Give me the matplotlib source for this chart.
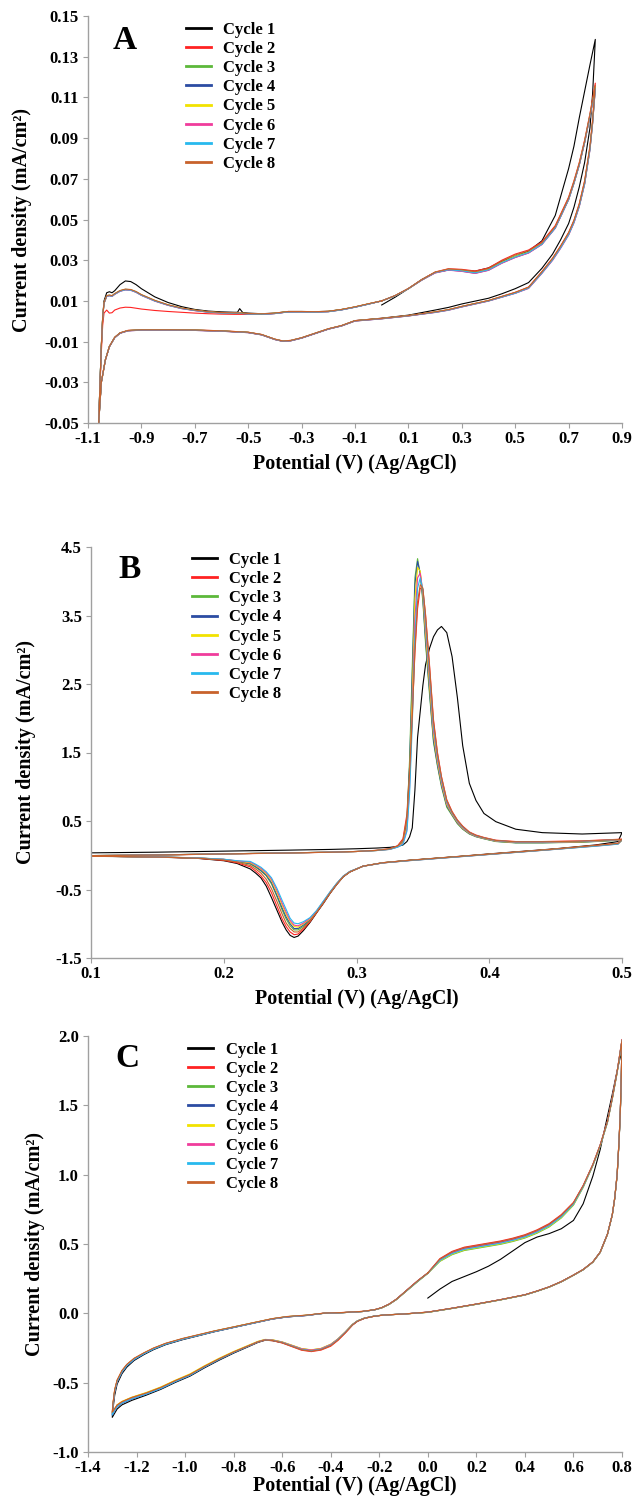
import matplotlib
matplotlib.use('Agg')
import matplotlib.pyplot as plt

plt.rcParams['font.family'] = ['Liberation Serif', 'DejaVu Serif']
plt.rcParams['font.weight'] = 'bold'
plt.rcParams['axes.unicode_minus'] = False

# ---------------- shared legend data ----------------
cycle_labels = ['Cycle 1', 'Cycle 2', 'Cycle 3', 'Cycle 4',
                'Cycle 5', 'Cycle 6', 'Cycle 7', 'Cycle 8']
cycle_colors = ['#000000', '#ff2222', '#5cb83a', '#2c4ca2',
                '#f2e200', '#f03c9c', '#28b9ee', '#c8622c']

# ---------------- Panel A ----------------
A_V_up = [0.00, 0.05, 0.10, 0.15, 0.20, 0.25, 0.30, 0.35, 0.40, 0.45, 0.50, 0.55,
          0.60, 0.65, 0.70, 0.72, 0.74, 0.76, 0.78, 0.80]
A_I_up = [
    [0.0080, 0.0118, 0.0160, 0.0205, 0.0240, 0.0252, 0.0250, 0.0246, 0.0262, 0.0295, 0.0318, 0.0345, 0.0395, 0.0520, 0.0750, 0.0860, 0.1000, 0.1130, 0.1260, 0.1385],
    [0.0100, 0.0126, 0.0161, 0.0205, 0.0242, 0.0258, 0.0255, 0.0247, 0.0262, 0.0300, 0.0330, 0.0350, 0.0390, 0.0470, 0.0610, 0.0690, 0.0780, 0.0890, 0.1020, 0.1170],
    [0.0100, 0.0125, 0.0160, 0.0203, 0.0240, 0.0255, 0.0250, 0.0240, 0.0255, 0.0290, 0.0320, 0.0340, 0.0380, 0.0460, 0.0600, 0.0680, 0.0770, 0.0880, 0.1010, 0.1150],
    [0.0100, 0.0125, 0.0160, 0.0202, 0.0238, 0.0252, 0.0246, 0.0236, 0.0251, 0.0286, 0.0314, 0.0336, 0.0378, 0.0458, 0.0598, 0.0678, 0.0768, 0.0878, 0.1008, 0.1145],
    [0.0100, 0.0125, 0.0160, 0.0203, 0.0239, 0.0254, 0.0249, 0.0239, 0.0254, 0.0289, 0.0318, 0.0339, 0.0380, 0.0460, 0.0600, 0.0680, 0.0770, 0.0880, 0.1010, 0.1148],
    [0.0100, 0.0125, 0.0160, 0.0202, 0.0237, 0.0251, 0.0245, 0.0235, 0.0250, 0.0285, 0.0313, 0.0335, 0.0377, 0.0457, 0.0597, 0.0677, 0.0767, 0.0877, 0.1007, 0.1140],
    [0.0100, 0.0125, 0.0160, 0.0203, 0.0239, 0.0253, 0.0248, 0.0238, 0.0253, 0.0288, 0.0316, 0.0338, 0.0379, 0.0459, 0.0599, 0.0679, 0.0769, 0.0879, 0.1009, 0.1145],
    [0.0100, 0.0126, 0.0161, 0.0204, 0.0241, 0.0257, 0.0253, 0.0244, 0.0259, 0.0296, 0.0326, 0.0346, 0.0386, 0.0466, 0.0606, 0.0686, 0.0776, 0.0886, 0.1016, 0.1160],
]
A_V_rev = [0.80, 0.79, 0.78, 0.76, 0.74, 0.72, 0.70, 0.67, 0.64, 0.60, 0.55, 0.50, 0.45, 0.40,
           0.30, 0.25, 0.20, 0.10, 0.00, -0.10, -0.15, -0.20, -0.25, -0.30, -0.34, -0.37,
           -0.40, -0.45, -0.50, -0.60, -0.70, -0.80, -0.90, -0.95, -0.98, -1.00, -1.02,
           -1.035, -1.05, -1.06]
A_I_rev = [
    [0.1385, 0.1120, 0.0950, 0.0780, 0.0660, 0.0560, 0.0480, 0.0400, 0.0330, 0.0260, 0.0190, 0.0160, 0.0135, 0.0113, 0.0085, 0.0068, 0.0055, 0.0030, 0.0015, 0.0003, -0.0022, -0.0038, -0.0060, -0.0082, -0.0095, -0.0098, -0.0089, -0.0066, -0.0055, -0.0048, -0.0044, -0.0043, -0.0043, -0.0046, -0.0058, -0.0080, -0.0125, -0.0190, -0.0300, -0.0500],
    [0.1170, 0.0990, 0.0860, 0.0690, 0.0578, 0.0496, 0.0436, 0.0370, 0.0310, 0.0244, 0.0168, 0.0142, 0.0122, 0.0102, 0.0073, 0.0057, 0.0046, 0.0028, 0.0014, 0.0003, -0.0021, -0.0037, -0.0059, -0.0081, -0.0094, -0.0097, -0.0088, -0.0065, -0.0054, -0.0047, -0.0043, -0.0042, -0.0042, -0.0045, -0.0057, -0.0079, -0.0124, -0.0190, -0.0300, -0.0500],
    [0.1150, 0.0980, 0.0850, 0.0680, 0.0570, 0.0490, 0.0430, 0.0365, 0.0305, 0.0240, 0.0165, 0.0140, 0.0120, 0.0101, 0.0072, 0.0056, 0.0045, 0.0027, 0.0013, 0.0002, -0.0022, -0.0038, -0.0060, -0.0082, -0.0095, -0.0098, -0.0089, -0.0066, -0.0055, -0.0048, -0.0044, -0.0043, -0.0043, -0.0046, -0.0058, -0.0080, -0.0125, -0.0190, -0.0300, -0.0500],
    [0.1145, 0.0976, 0.0846, 0.0676, 0.0566, 0.0486, 0.0426, 0.0361, 0.0302, 0.0237, 0.0163, 0.0138, 0.0119, 0.0100, 0.0071, 0.0055, 0.0044, 0.0026, 0.0012, 0.0001, -0.0023, -0.0039, -0.0061, -0.0083, -0.0096, -0.0099, -0.0090, -0.0067, -0.0056, -0.0049, -0.0045, -0.0044, -0.0044, -0.0047, -0.0059, -0.0081, -0.0126, -0.0191, -0.0300, -0.0500],
    [0.1148, 0.0978, 0.0848, 0.0678, 0.0568, 0.0488, 0.0428, 0.0363, 0.0304, 0.0239, 0.0164, 0.0139, 0.0120, 0.0101, 0.0072, 0.0056, 0.0045, 0.0027, 0.0013, 0.0002, -0.0022, -0.0038, -0.0060, -0.0082, -0.0095, -0.0098, -0.0089, -0.0066, -0.0055, -0.0048, -0.0044, -0.0043, -0.0043, -0.0046, -0.0058, -0.0080, -0.0125, -0.0190, -0.0300, -0.0500],
    [0.1140, 0.0972, 0.0842, 0.0672, 0.0563, 0.0483, 0.0423, 0.0358, 0.0299, 0.0235, 0.0161, 0.0137, 0.0118, 0.0099, 0.0070, 0.0054, 0.0043, 0.0026, 0.0012, 0.0001, -0.0023, -0.0039, -0.0061, -0.0083, -0.0096, -0.0099, -0.0090, -0.0067, -0.0056, -0.0049, -0.0045, -0.0044, -0.0044, -0.0047, -0.0059, -0.0081, -0.0126, -0.0191, -0.0300, -0.0500],
    [0.1145, 0.0975, 0.0845, 0.0675, 0.0566, 0.0486, 0.0426, 0.0361, 0.0302, 0.0237, 0.0163, 0.0138, 0.0119, 0.0100, 0.0071, 0.0055, 0.0044, 0.0027, 0.0013, 0.0002, -0.0022, -0.0038, -0.0060, -0.0082, -0.0095, -0.0098, -0.0089, -0.0066, -0.0055, -0.0048, -0.0044, -0.0043, -0.0043, -0.0046, -0.0058, -0.0080, -0.0125, -0.0190, -0.0300, -0.0500],
    [0.1160, 0.0988, 0.0858, 0.0688, 0.0576, 0.0495, 0.0435, 0.0369, 0.0309, 0.0243, 0.0167, 0.0142, 0.0122, 0.0102, 0.0073, 0.0057, 0.0046, 0.0028, 0.0014, 0.0003, -0.0021, -0.0037, -0.0059, -0.0081, -0.0094, -0.0097, -0.0088, -0.0065, -0.0054, -0.0047, -0.0043, -0.0042, -0.0042, -0.0045, -0.0057, -0.0079, -0.0124, -0.0190, -0.0300, -0.0500],
]
A_V_low = [-1.060, -1.055, -1.050, -1.045, -1.040, -1.030, -1.020, -1.010, -1.000, -0.980,
           -0.960, -0.940, -0.920, -0.900, -0.850, -0.800, -0.750, -0.700, -0.650, -0.600,
           -0.550, -0.540, -0.532, -0.520, -0.500, -0.450, -0.400, -0.350, -0.300, -0.250,
           -0.200, -0.150, -0.100, -0.050, 0.000]
A_I_low = [
    [-0.0500, -0.0300, -0.0120, 0.0020, 0.0100, 0.0140, 0.0145, 0.0140, 0.0150, 0.0180, 0.0198, 0.0195, 0.0180, 0.0160, 0.0120, 0.0092, 0.0072, 0.0058, 0.0050, 0.0046, 0.0044, 0.0044, 0.0062, 0.0042, 0.0040, 0.0037, 0.0040, 0.0048, 0.0048, 0.0047, 0.0049, 0.0058, 0.0070, 0.0085, 0.0100],
    [-0.0500, -0.0320, -0.0150, -0.0020, 0.0040, 0.0055, 0.0040, 0.0042, 0.0055, 0.0065, 0.0069, 0.0068, 0.0064, 0.0060, 0.0053, 0.0048, 0.0044, 0.0040, 0.0037, 0.0035, 0.0034, 0.0034, 0.0034, 0.0034, 0.0034, 0.0034, 0.0038, 0.0046, 0.0047, 0.0046, 0.0048, 0.0057, 0.0070, 0.0085, 0.0100],
    [-0.0500, -0.0300, -0.0120, 0.0020, 0.0090, 0.0125, 0.0128, 0.0125, 0.0135, 0.0150, 0.0157, 0.0155, 0.0145, 0.0130, 0.0102, 0.0080, 0.0064, 0.0054, 0.0046, 0.0042, 0.0040, 0.0040, 0.0040, 0.0039, 0.0037, 0.0035, 0.0039, 0.0047, 0.0047, 0.0046, 0.0048, 0.0057, 0.0070, 0.0085, 0.0100],
    [-0.0500, -0.0302, -0.0122, 0.0018, 0.0088, 0.0123, 0.0126, 0.0123, 0.0133, 0.0148, 0.0155, 0.0153, 0.0143, 0.0128, 0.0100, 0.0079, 0.0063, 0.0053, 0.0045, 0.0041, 0.0039, 0.0039, 0.0039, 0.0038, 0.0036, 0.0034, 0.0038, 0.0046, 0.0046, 0.0045, 0.0047, 0.0056, 0.0069, 0.0084, 0.0100],
    [-0.0500, -0.0300, -0.0120, 0.0020, 0.0090, 0.0124, 0.0127, 0.0124, 0.0134, 0.0149, 0.0156, 0.0154, 0.0144, 0.0129, 0.0101, 0.0080, 0.0064, 0.0054, 0.0046, 0.0042, 0.0040, 0.0040, 0.0040, 0.0039, 0.0037, 0.0035, 0.0039, 0.0047, 0.0047, 0.0046, 0.0048, 0.0057, 0.0070, 0.0085, 0.0100],
    [-0.0500, -0.0302, -0.0122, 0.0018, 0.0088, 0.0122, 0.0125, 0.0122, 0.0132, 0.0147, 0.0154, 0.0152, 0.0142, 0.0127, 0.0099, 0.0078, 0.0062, 0.0052, 0.0045, 0.0041, 0.0039, 0.0039, 0.0039, 0.0038, 0.0036, 0.0034, 0.0038, 0.0046, 0.0046, 0.0045, 0.0047, 0.0056, 0.0069, 0.0084, 0.0100],
    [-0.0500, -0.0301, -0.0121, 0.0019, 0.0089, 0.0123, 0.0126, 0.0123, 0.0133, 0.0148, 0.0155, 0.0153, 0.0143, 0.0128, 0.0100, 0.0079, 0.0063, 0.0053, 0.0045, 0.0041, 0.0039, 0.0039, 0.0039, 0.0038, 0.0036, 0.0034, 0.0038, 0.0046, 0.0046, 0.0045, 0.0047, 0.0056, 0.0069, 0.0084, 0.0100],
    [-0.0500, -0.0300, -0.0120, 0.0020, 0.0091, 0.0126, 0.0129, 0.0126, 0.0136, 0.0151, 0.0158, 0.0156, 0.0146, 0.0131, 0.0103, 0.0081, 0.0065, 0.0055, 0.0047, 0.0043, 0.0041, 0.0041, 0.0041, 0.0040, 0.0038, 0.0036, 0.0040, 0.0048, 0.0048, 0.0047, 0.0049, 0.0058, 0.0071, 0.0086, 0.0100],
]
A_xticks = [-1.1, -0.9, -0.7, -0.5, -0.3, -0.1, 0.1, 0.3, 0.5, 0.7, 0.9]
A_xticklabels = ['-1.1', '-0.9', '-0.7', '-0.5', '-0.3', '-0.1', '0.1', '0.3', '0.5', '0.7', '0.9']
A_yticks = [-0.05, -0.03, -0.01, 0.01, 0.03, 0.05, 0.07, 0.09, 0.11, 0.13, 0.15]
A_yticklabels = ['-0.05', '-0.03', '-0.01', '0.01', '0.03', '0.05', '0.07', '0.09', '0.11', '0.13', '0.15']

# ---------------- Panel B ----------------
B_V_fwd = [0.100, 0.150, 0.200, 0.250, 0.280, 0.300, 0.315, 0.325, 0.331, 0.335, 0.338, 0.340,
           0.342, 0.344, 0.346, 0.348, 0.350, 0.352, 0.355, 0.358, 0.361, 0.364, 0.368, 0.372,
           0.376, 0.380, 0.385, 0.390, 0.396, 0.405, 0.420, 0.440, 0.470, 0.500]
B_I_fwd = [
    [0.035, 0.045, 0.060, 0.075, 0.085, 0.095, 0.105, 0.115, 0.130, 0.150, 0.200, 0.270, 0.400, 0.950, 1.720, 2.100, 2.480, 2.780, 3.020, 3.190, 3.290, 3.340, 3.250, 2.900, 2.300, 1.600, 1.050, 0.800, 0.610, 0.490, 0.380, 0.330, 0.310, 0.330],
    [-0.008, 0.003, 0.018, 0.033, 0.044, 0.055, 0.072, 0.095, 0.140, 0.240, 0.600, 1.300, 2.050, 2.950, 3.600, 3.900, 3.880, 3.520, 2.780, 1.980, 1.500, 1.150, 0.810, 0.640, 0.515, 0.425, 0.340, 0.295, 0.260, 0.220, 0.200, 0.200, 0.210, 0.235],
    [-0.005, 0.005, 0.020, 0.035, 0.045, 0.055, 0.070, 0.090, 0.130, 0.200, 0.500, 1.400, 2.750, 4.050, 4.330, 4.100, 3.700, 3.100, 2.350, 1.650, 1.300, 1.000, 0.700, 0.580, 0.460, 0.380, 0.310, 0.270, 0.240, 0.200, 0.180, 0.180, 0.190, 0.220],
    [-0.005, 0.005, 0.020, 0.035, 0.045, 0.055, 0.070, 0.088, 0.125, 0.190, 0.460, 1.300, 2.600, 3.950, 4.290, 4.120, 3.750, 3.150, 2.400, 1.680, 1.320, 1.020, 0.720, 0.590, 0.470, 0.385, 0.315, 0.273, 0.243, 0.203, 0.183, 0.183, 0.193, 0.222],
    [-0.005, 0.005, 0.020, 0.035, 0.045, 0.055, 0.069, 0.087, 0.122, 0.180, 0.420, 1.150, 2.350, 3.750, 4.200, 4.150, 3.800, 3.250, 2.480, 1.750, 1.360, 1.050, 0.740, 0.600, 0.480, 0.392, 0.320, 0.277, 0.246, 0.206, 0.186, 0.186, 0.196, 0.225],
    [-0.005, 0.005, 0.020, 0.035, 0.045, 0.055, 0.069, 0.086, 0.120, 0.170, 0.380, 1.000, 2.100, 3.450, 4.050, 4.120, 3.850, 3.350, 2.580, 1.820, 1.400, 1.080, 0.760, 0.610, 0.490, 0.400, 0.325, 0.280, 0.250, 0.210, 0.190, 0.190, 0.200, 0.228],
    [-0.005, 0.005, 0.020, 0.035, 0.045, 0.055, 0.068, 0.085, 0.118, 0.160, 0.350, 0.900, 1.900, 3.200, 3.900, 4.050, 3.880, 3.420, 2.660, 1.880, 1.440, 1.110, 0.780, 0.620, 0.500, 0.410, 0.330, 0.285, 0.253, 0.213, 0.193, 0.193, 0.203, 0.230],
    [-0.006, 0.004, 0.019, 0.034, 0.044, 0.055, 0.071, 0.093, 0.135, 0.220, 0.550, 1.200, 2.000, 3.000, 3.700, 3.950, 3.900, 3.500, 2.750, 1.950, 1.480, 1.140, 0.800, 0.630, 0.510, 0.420, 0.335, 0.290, 0.256, 0.216, 0.196, 0.196, 0.206, 0.232],
]
B_V_rev = [0.500, 0.497, 0.480, 0.450, 0.420, 0.400, 0.380, 0.360, 0.340, 0.320, 0.305, 0.295,
           0.290, 0.285, 0.280, 0.275, 0.270, 0.265, 0.260, 0.256, 0.253, 0.250, 0.247, 0.244,
           0.240, 0.236, 0.232, 0.228, 0.224, 0.220, 0.210, 0.200, 0.180, 0.150, 0.120, 0.100]
B_I_rev = [
    [0.330, 0.200, 0.150, 0.095, 0.050, 0.020, -0.012, -0.042, -0.072, -0.108, -0.158, -0.245, -0.315, -0.430, -0.560, -0.705, -0.840, -0.980, -1.100, -1.180, -1.200, -1.170, -1.090, -0.980, -0.800, -0.620, -0.450, -0.330, -0.260, -0.200, -0.120, -0.080, -0.045, -0.027, -0.019, -0.016],
    [0.235, 0.175, 0.145, 0.092, 0.047, 0.017, -0.014, -0.044, -0.074, -0.109, -0.159, -0.243, -0.313, -0.428, -0.556, -0.700, -0.835, -0.970, -1.080, -1.150, -1.160, -1.120, -1.040, -0.930, -0.740, -0.550, -0.400, -0.300, -0.230, -0.170, -0.110, -0.075, -0.043, -0.026, -0.018, -0.015],
    [0.220, 0.170, 0.140, 0.090, 0.045, 0.015, -0.015, -0.045, -0.075, -0.110, -0.160, -0.240, -0.310, -0.420, -0.550, -0.690, -0.825, -0.950, -1.040, -1.090, -1.090, -1.030, -0.930, -0.800, -0.600, -0.420, -0.300, -0.230, -0.175, -0.130, -0.090, -0.062, -0.040, -0.025, -0.018, -0.015],
    [0.222, 0.168, 0.138, 0.089, 0.044, 0.014, -0.016, -0.046, -0.076, -0.111, -0.160, -0.239, -0.309, -0.418, -0.547, -0.686, -0.820, -0.940, -1.020, -1.070, -1.070, -1.000, -0.900, -0.770, -0.580, -0.400, -0.290, -0.220, -0.165, -0.120, -0.088, -0.061, -0.040, -0.025, -0.018, -0.015],
    [0.225, 0.166, 0.136, 0.088, 0.043, 0.013, -0.017, -0.047, -0.077, -0.111, -0.160, -0.238, -0.307, -0.416, -0.543, -0.680, -0.815, -0.930, -1.000, -1.050, -1.040, -0.970, -0.860, -0.730, -0.540, -0.370, -0.270, -0.200, -0.150, -0.110, -0.085, -0.060, -0.039, -0.025, -0.018, -0.015],
    [0.228, 0.164, 0.134, 0.087, 0.042, 0.012, -0.018, -0.048, -0.078, -0.112, -0.160, -0.237, -0.306, -0.414, -0.540, -0.676, -0.810, -0.920, -0.990, -1.030, -1.020, -0.950, -0.830, -0.700, -0.510, -0.350, -0.255, -0.190, -0.140, -0.100, -0.082, -0.059, -0.039, -0.025, -0.018, -0.015],
    [0.230, 0.162, 0.132, 0.086, 0.041, 0.011, -0.019, -0.049, -0.079, -0.112, -0.160, -0.236, -0.304, -0.412, -0.536, -0.670, -0.805, -0.910, -0.970, -1.000, -0.990, -0.920, -0.790, -0.660, -0.480, -0.330, -0.240, -0.175, -0.130, -0.090, -0.080, -0.058, -0.038, -0.024, -0.018, -0.015],
    [0.232, 0.172, 0.142, 0.091, 0.046, 0.016, -0.014, -0.044, -0.074, -0.109, -0.159, -0.242, -0.312, -0.425, -0.553, -0.695, -0.830, -0.960, -1.060, -1.120, -1.120, -1.070, -0.990, -0.860, -0.670, -0.490, -0.350, -0.260, -0.200, -0.150, -0.100, -0.070, -0.042, -0.026, -0.018, -0.015],
]
B_xticks = [0.1, 0.2, 0.3, 0.4, 0.5]
B_xticklabels = ['0.1', '0.2', '0.3', '0.4', '0.5']
B_yticks = [-1.5, -0.5, 0.5, 1.5, 2.5, 3.5, 4.5]
B_yticklabels = ['-1.5', '-0.5', '0.5', '1.5', '2.5', '3.5', '4.5']

# ---------------- Panel C ----------------
C_V_up = [0.00, 0.05, 0.10, 0.15, 0.20, 0.25, 0.30, 0.35, 0.40, 0.45, 0.50, 0.55, 0.60,
          0.64, 0.68, 0.71, 0.74, 0.76, 0.78, 0.80]
C_I_up = [
    [0.110, 0.175, 0.230, 0.265, 0.300, 0.340, 0.390, 0.450, 0.510, 0.550, 0.575, 0.610, 0.670, 0.790, 0.990, 1.180, 1.420, 1.580, 1.750, 1.900],
    [0.292, 0.395, 0.447, 0.477, 0.492, 0.507, 0.522, 0.542, 0.567, 0.602, 0.647, 0.712, 0.800, 0.922, 1.075, 1.215, 1.385, 1.555, 1.745, 1.975],
    [0.288, 0.375, 0.423, 0.453, 0.468, 0.483, 0.498, 0.518, 0.543, 0.578, 0.623, 0.688, 0.780, 0.908, 1.065, 1.205, 1.375, 1.545, 1.735, 1.965],
    [0.290, 0.388, 0.439, 0.469, 0.484, 0.499, 0.514, 0.534, 0.559, 0.594, 0.639, 0.704, 0.793, 0.917, 1.071, 1.211, 1.381, 1.551, 1.741, 1.970],
    [0.289, 0.378, 0.427, 0.457, 0.472, 0.487, 0.502, 0.522, 0.547, 0.582, 0.627, 0.692, 0.783, 0.910, 1.067, 1.207, 1.377, 1.547, 1.737, 1.967],
    [0.290, 0.385, 0.435, 0.465, 0.480, 0.495, 0.510, 0.530, 0.555, 0.590, 0.635, 0.700, 0.790, 0.915, 1.070, 1.210, 1.380, 1.550, 1.740, 1.970],
    [0.290, 0.382, 0.431, 0.461, 0.476, 0.491, 0.506, 0.526, 0.551, 0.586, 0.631, 0.696, 0.787, 0.913, 1.069, 1.209, 1.379, 1.549, 1.739, 1.969],
    [0.291, 0.392, 0.443, 0.473, 0.488, 0.503, 0.518, 0.538, 0.563, 0.598, 0.643, 0.708, 0.797, 0.920, 1.073, 1.213, 1.383, 1.553, 1.743, 1.972],
]
C_V_rev = [0.800, 0.797, 0.793, 0.788, 0.780, 0.770, 0.760, 0.740, 0.710, 0.680, 0.640, 0.600,
           0.550, 0.500, 0.450, 0.400, 0.300, 0.200, 0.100, 0.000, -0.100, -0.180, -0.220,
           -0.260, -0.290, -0.310, -0.340, -0.370, -0.400, -0.440, -0.480, -0.520, -0.560,
           -0.600, -0.640, -0.670, -0.700, -0.740, -0.800, -0.860, -0.920, -0.980, -1.040,
           -1.100, -1.160, -1.220, -1.260, -1.280, -1.300]
C_I_rev = [
    [1.900, 1.680, 1.440, 1.240, 0.995, 0.828, 0.710, 0.570, 0.440, 0.370, 0.315, 0.275, 0.228, 0.190, 0.160, 0.133, 0.098, 0.066, 0.036, 0.008, -0.005, -0.012, -0.020, -0.034, -0.055, -0.082, -0.138, -0.188, -0.228, -0.258, -0.268, -0.259, -0.235, -0.211, -0.197, -0.194, -0.210, -0.241, -0.287, -0.338, -0.393, -0.453, -0.498, -0.548, -0.590, -0.628, -0.660, -0.690, -0.750],
    [1.975, 1.705, 1.455, 1.252, 1.002, 0.832, 0.712, 0.571, 0.441, 0.371, 0.316, 0.276, 0.229, 0.191, 0.161, 0.134, 0.099, 0.067, 0.037, 0.009, -0.005, -0.012, -0.021, -0.036, -0.058, -0.085, -0.142, -0.195, -0.237, -0.265, -0.276, -0.266, -0.240, -0.214, -0.197, -0.193, -0.207, -0.236, -0.280, -0.329, -0.383, -0.442, -0.486, -0.535, -0.575, -0.608, -0.638, -0.662, -0.715],
    [1.965, 1.695, 1.445, 1.248, 0.998, 0.829, 0.709, 0.569, 0.439, 0.369, 0.314, 0.274, 0.227, 0.189, 0.159, 0.132, 0.097, 0.065, 0.035, 0.007, -0.005, -0.012, -0.020, -0.034, -0.055, -0.080, -0.135, -0.185, -0.224, -0.254, -0.264, -0.255, -0.231, -0.207, -0.192, -0.189, -0.204, -0.234, -0.279, -0.329, -0.384, -0.444, -0.489, -0.539, -0.579, -0.614, -0.644, -0.669, -0.728],
    [1.970, 1.700, 1.450, 1.250, 1.000, 0.830, 0.710, 0.570, 0.440, 0.370, 0.315, 0.275, 0.228, 0.190, 0.160, 0.133, 0.098, 0.066, 0.036, 0.008, -0.005, -0.012, -0.020, -0.035, -0.056, -0.081, -0.136, -0.187, -0.227, -0.258, -0.268, -0.258, -0.234, -0.209, -0.194, -0.191, -0.206, -0.237, -0.283, -0.333, -0.388, -0.448, -0.493, -0.543, -0.583, -0.619, -0.649, -0.674, -0.735],
    [1.967, 1.697, 1.447, 1.249, 0.999, 0.829, 0.709, 0.569, 0.439, 0.369, 0.314, 0.274, 0.227, 0.189, 0.159, 0.132, 0.097, 0.065, 0.035, 0.007, -0.005, -0.012, -0.020, -0.034, -0.054, -0.079, -0.134, -0.184, -0.223, -0.253, -0.263, -0.254, -0.230, -0.206, -0.191, -0.188, -0.202, -0.231, -0.275, -0.324, -0.378, -0.437, -0.482, -0.531, -0.571, -0.605, -0.635, -0.660, -0.718],
    [1.970, 1.700, 1.450, 1.250, 1.000, 0.830, 0.710, 0.570, 0.440, 0.370, 0.315, 0.275, 0.228, 0.190, 0.160, 0.133, 0.098, 0.066, 0.036, 0.008, -0.005, -0.012, -0.020, -0.034, -0.055, -0.080, -0.135, -0.185, -0.225, -0.255, -0.265, -0.256, -0.232, -0.208, -0.193, -0.190, -0.205, -0.235, -0.280, -0.330, -0.385, -0.445, -0.490, -0.540, -0.580, -0.615, -0.645, -0.670, -0.730],
    [1.969, 1.699, 1.449, 1.250, 1.000, 0.830, 0.710, 0.570, 0.440, 0.370, 0.315, 0.275, 0.228, 0.190, 0.160, 0.133, 0.098, 0.066, 0.036, 0.008, -0.005, -0.012, -0.020, -0.034, -0.055, -0.081, -0.137, -0.188, -0.229, -0.259, -0.270, -0.260, -0.235, -0.210, -0.195, -0.192, -0.207, -0.237, -0.282, -0.332, -0.387, -0.447, -0.492, -0.542, -0.582, -0.617, -0.647, -0.672, -0.732],
    [1.972, 1.702, 1.452, 1.251, 1.001, 0.831, 0.711, 0.571, 0.441, 0.371, 0.316, 0.276, 0.229, 0.191, 0.161, 0.134, 0.099, 0.067, 0.037, 0.009, -0.005, -0.012, -0.021, -0.035, -0.057, -0.083, -0.140, -0.192, -0.233, -0.262, -0.273, -0.263, -0.238, -0.212, -0.196, -0.192, -0.206, -0.235, -0.279, -0.328, -0.382, -0.441, -0.485, -0.534, -0.574, -0.607, -0.637, -0.661, -0.713],
]
C_V_low = [-1.300, -1.297, -1.290, -1.280, -1.260, -1.240, -1.210, -1.170, -1.130, -1.080,
           -1.010, -0.950, -0.880, -0.800, -0.720, -0.640, -0.580, -0.500, -0.430, -0.350,
           -0.270, -0.220, -0.190, -0.160, -0.130, -0.100, -0.070, -0.040, 0.000]
C_I_low = [
    [-0.750, -0.690, -0.590, -0.510, -0.435, -0.388, -0.340, -0.298, -0.262, -0.226, -0.190, -0.164, -0.133, -0.102, -0.071, -0.041, -0.026, -0.015, 0.000, 0.005, 0.013, 0.025, 0.040, 0.065, 0.100, 0.145, 0.190, 0.235, 0.290],
    [-0.715, -0.650, -0.552, -0.483, -0.414, -0.370, -0.326, -0.287, -0.252, -0.218, -0.183, -0.158, -0.129, -0.099, -0.069, -0.039, -0.024, -0.014, 0.001, 0.006, 0.014, 0.026, 0.041, 0.066, 0.102, 0.147, 0.193, 0.238, 0.292],
    [-0.728, -0.658, -0.558, -0.488, -0.418, -0.373, -0.328, -0.288, -0.253, -0.218, -0.183, -0.158, -0.128, -0.098, -0.068, -0.039, -0.024, -0.014, 0.000, 0.005, 0.013, 0.025, 0.039, 0.064, 0.098, 0.143, 0.187, 0.231, 0.288],
    [-0.735, -0.665, -0.565, -0.494, -0.424, -0.379, -0.334, -0.293, -0.258, -0.223, -0.187, -0.162, -0.132, -0.102, -0.072, -0.041, -0.026, -0.016, 0.000, 0.005, 0.013, 0.025, 0.040, 0.065, 0.100, 0.146, 0.191, 0.236, 0.290],
    [-0.718, -0.652, -0.554, -0.485, -0.416, -0.372, -0.327, -0.288, -0.253, -0.219, -0.184, -0.159, -0.129, -0.099, -0.069, -0.039, -0.024, -0.014, 0.000, 0.005, 0.013, 0.025, 0.039, 0.064, 0.099, 0.144, 0.188, 0.233, 0.289],
    [-0.730, -0.660, -0.560, -0.490, -0.420, -0.375, -0.330, -0.290, -0.255, -0.220, -0.185, -0.160, -0.130, -0.100, -0.070, -0.040, -0.025, -0.015, 0.000, 0.005, 0.013, 0.025, 0.040, 0.065, 0.100, 0.145, 0.190, 0.235, 0.290],
    [-0.732, -0.662, -0.562, -0.492, -0.422, -0.377, -0.332, -0.292, -0.257, -0.222, -0.186, -0.161, -0.131, -0.101, -0.071, -0.040, -0.025, -0.015, 0.000, 0.005, 0.013, 0.025, 0.040, 0.065, 0.100, 0.145, 0.189, 0.234, 0.290],
    [-0.713, -0.648, -0.550, -0.481, -0.412, -0.368, -0.324, -0.285, -0.250, -0.216, -0.181, -0.156, -0.127, -0.098, -0.068, -0.038, -0.023, -0.013, 0.001, 0.006, 0.014, 0.026, 0.041, 0.066, 0.101, 0.146, 0.192, 0.237, 0.291],
]
C_xticks = [-1.4, -1.2, -1.0, -0.8, -0.6, -0.4, -0.2, 0.0, 0.2, 0.4, 0.6, 0.8]
C_xticklabels = ['-1.4', '-1.2', '-1.0', '-0.8', '-0.6', '-0.4', '-0.2', '0.0', '0.2', '0.4', '0.6', '0.8']
C_yticks = [-1.0, -0.5, 0.0, 0.5, 1.0, 1.5, 2.0]
C_yticklabels = ['-1.0', '-0.5', '0.0', '0.5', '1.0', '1.5', '2.0']

x_label = 'Potential (V) (Ag/AgCl)'
y_label = 'Current density (mA/cm²)'

# ---------------- drawing ----------------
W, H = 635, 1496
fig = plt.figure(figsize=(W / 100, H / 100), dpi=100)
AXIS_GRAY = '#a0a0a0'


def panel(box, segments, xlim, ylim, xt, xtl, yt, ytl, letter, letter_xy,
          legend_xy, ylabel_x, xlabel_y):
    left, top, right, bottom = box
    ax = fig.add_axes([left / W, 1 - bottom / H, (right - left) / W, (bottom - top) / H])
    for k in range(8):
        V, I = [], []
        for vs, rows in segments:
            V += list(vs)
            I += list(rows[k])
        ax.plot(V, I, color=cycle_colors[k], lw=0.8, label=cycle_labels[k],
                solid_joinstyle='round')
    ax.set_xlim(*xlim)
    ax.set_ylim(*ylim)
    ax.set_xticks(xt)
    ax.set_xticklabels(xtl)
    ax.set_yticks(yt)
    ax.set_yticklabels(ytl)
    for s in ['top', 'right']:
        ax.spines[s].set_visible(False)
    for s in ['left', 'bottom']:
        ax.spines[s].set_color(AXIS_GRAY)
        ax.spines[s].set_linewidth(1.0)
    ax.tick_params(axis='both', direction='out', length=3.5, width=0.8,
                   color=AXIS_GRAY, labelsize=12, labelcolor='black')
    ax.tick_params(axis='x', pad=2.5)
    ax.tick_params(axis='y', pad=3)
    for t in ax.get_xticklabels() + ax.get_yticklabels():
        t.set_fontweight('bold')
    ax.set_xlabel(x_label, fontsize=14.5, fontweight='bold')
    ax.set_ylabel(y_label, fontsize=14.5, fontweight='bold')
    ax.xaxis.label.set_va('center')
    ax.yaxis.label.set_va('center')
    ax.xaxis.set_label_coords(0.5, xlabel_y)
    ax.yaxis.set_label_coords(ylabel_x, 0.5)
    ax.text(letter_xy[0], letter_xy[1], letter, transform=ax.transAxes,
            fontsize=24, fontweight='bold', ha='center', va='center')
    leg = ax.legend(loc='upper left', bbox_to_anchor=legend_xy, frameon=False,
                    fontsize=12, handlelength=1.5, handletextpad=0.75,
                    labelspacing=0.19, borderpad=0, borderaxespad=0)
    for ln in leg.get_lines():
        ln.set_linewidth(2.0)
    return ax


panel((88, 16, 622, 423),
      [(A_V_up, A_I_up), (A_V_rev, A_I_rev), (A_V_low, A_I_low)],
      (-1.1, 0.9), (-0.05, 0.15), A_xticks, A_xticklabels, A_yticks, A_yticklabels,
      'A', (0.069, 0.94), (0.183, 0.986), -0.124, -0.10)

panel((91, 547, 622, 958),
      [(B_V_fwd, B_I_fwd), (B_V_rev, B_I_rev)],
      (0.1, 0.5), (-1.5, 4.5), B_xticks, B_xticklabels, B_yticks, B_yticklabels,
      'B', (0.073, 0.945), (0.19, 0.988), -0.122, -0.1)

panel((88, 1036, 622, 1452),
      [(C_V_up, C_I_up), (C_V_rev, C_I_rev), (C_V_low, C_I_low)],
      (-1.4, 0.8), (-1.0, 2.0), C_xticks, C_xticklabels, C_yticks, C_yticklabels,
      'C', (0.073, 0.945), (0.188, 0.986), -0.099, -0.082)

fig.savefig('out.png', dpi=100)
